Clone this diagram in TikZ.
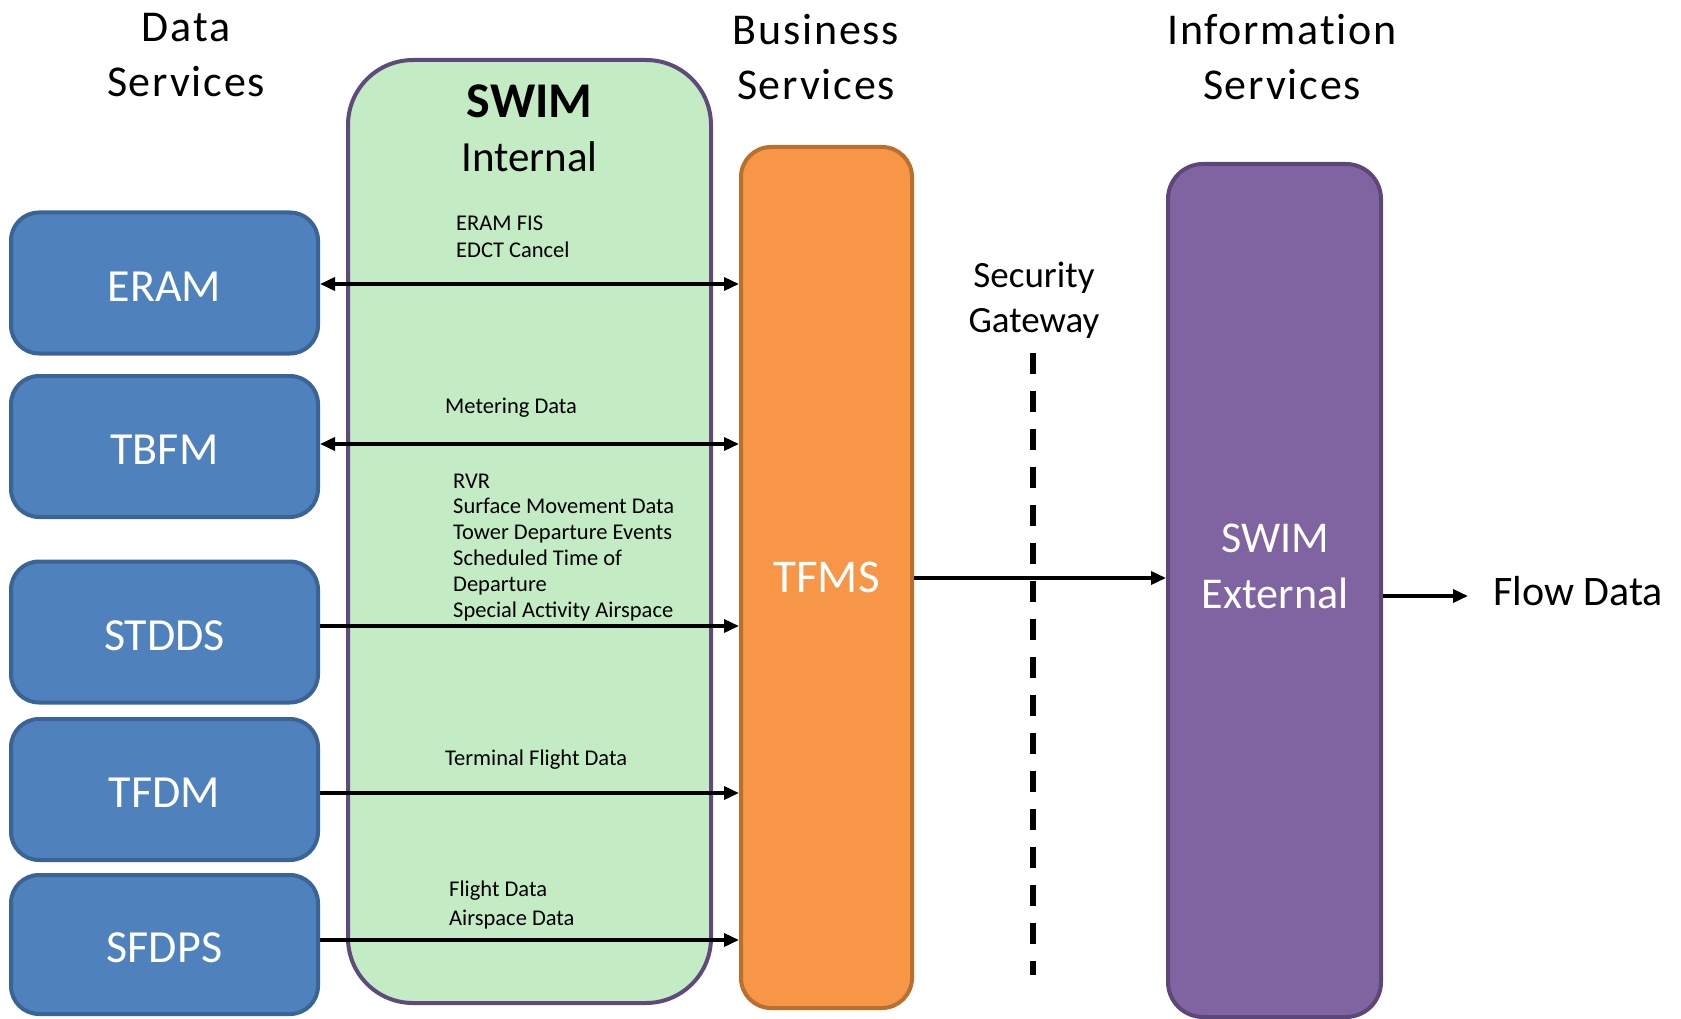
\documentclass[tikz,border=0pt]{standalone}
\usepackage{fontspec}
\setmainfont{Carlito}
\usetikzlibrary{arrows.meta,calc}
\definecolor{bluefill}{HTML}{4F81BD}
\definecolor{blueline}{HTML}{3A6496}
\definecolor{greenfill}{HTML}{C3EBC4}
\definecolor{greenline}{HTML}{604A7B}
\definecolor{orangefill}{HTML}{F79646}
\definecolor{orangeline}{HTML}{B8702F}
\definecolor{purplefill}{HTML}{8064A2}
\definecolor{purpleline}{HTML}{5C4776}
\tikzset{
  sysbox/.style={draw=blueline, line width=4pt, fill=bluefill, rounded corners=28pt,
    minimum width=307pt, minimum height=141pt, inner sep=0pt, text=white,
    text height=36pt, text depth=0pt,
    font=\fontsize{46}{55}\selectfont},
  heading/.style={align=center, inner sep=0pt,
    font=\fontsize{44}{55}\selectfont\addfontfeature{LetterSpace=4,Ligatures=NoCommon}},
  smalllab/.style={align=left, inner sep=0pt, anchor=base west, font=\fontsize{22.5}{27}\selectfont},
  arr/.style={line width=3.5pt, -{Triangle[length=15pt,width=13pt]}},
  darr/.style={line width=3.5pt, {Triangle[length=15pt,width=13pt]}-{Triangle[length=15pt,width=13pt]}},
}
\begin{document}
\begin{tikzpicture}[x=1pt,y=-1pt]
\useasboundingbox (0,0) rectangle (1681,1019);

% SWIM internal container
\node[draw=greenline, line width=4pt, fill=greenfill, rounded corners=65pt,
  minimum width=363pt, minimum height=943pt, inner sep=0pt] (swimint) at (529.5,531.5) {};
\node[inner sep=0pt, anchor=base, font=\bfseries\fontsize{50}{60}\selectfont] (swimtitle) at (529.5,118) {SWIM};
\node[inner sep=0pt, anchor=base, font=\fontsize{43}{52}\selectfont] (swiminternal) at (529.5,172) {Internal};

% data systems
\node[sysbox] (eram) at (164.5,283) {ERAM};
\node[sysbox] (tbfm) at (164.5,446.5) {TBFM};
\node[sysbox] (stdds) at (164.5,632) {STDDS};
\node[sysbox] (tfdm) at (164.5,789.5) {TFDM};
\node[sysbox, minimum height=139pt] (sfdps) at (164.5,944.5) {SFDPS};

% TFMS
\node[draw=orangeline, fill=orangefill, line width=4pt, rounded corners=30pt,
  minimum width=171pt, minimum height=861pt, inner sep=0pt, text=white,
  font=\fontsize{47}{56}\selectfont] (tfms) at (826.5,577.5) {TFMS};

% SWIM External
\node[draw=purpleline, fill=purplefill, line width=4pt, rounded corners=35pt,
  minimum width=213pt, minimum height=853pt, inner sep=0pt] (swimext) at (1274.5,590.5) {};
\node[inner sep=0pt, align=center, anchor=base, text=white,
  font=\fontsize{44}{56}\selectfont] (swimextlab) at (1275,608) {SWIM\\External};

% headings
\node[heading, anchor=base] (hdata) at (186,97) {Data\\Services};
\node[heading, anchor=base] (hbus) at (816,100) {Business\\Services};
\node[heading, anchor=base] (hinfo) at (1282,100) {Information\\Services};
\node[align=center, inner sep=0pt, anchor=base, font=\fontsize{37}{45}\selectfont] (hsec) at (1034,332) {Security\\Gateway};

% labels
\node[smalllab] (lab1) at (456,258) {ERAM FIS\\EDCT Cancel};
\node[smalllab] (lab2) at (445,413) {Metering Data};
\node[smalllab, font=\fontsize{22.5}{25.8}\selectfont] (lab3) at (453,617) {RVR\\Surface Movement Data\\Tower Departure Events\\Scheduled Time of\\Departure\\Special Activity Airspace};
\node[smalllab] (lab4) at (445,765) {Terminal Flight Data};
\node[smalllab, font=\fontsize{22.5}{29}\selectfont] (lab5) at (449,925) {Flight Data\\Airspace Data};

\node[inner sep=0pt, anchor=base west, font=\fontsize{42}{50}\selectfont] (flow) at (1493,605) {Flow Data};

% connectors
\draw[darr] (eram.east |- 0,284) -- (tfms.west |- 0,284);
\draw[darr] (tbfm.east |- 0,444) -- (tfms.west |- 0,444);
\draw[arr] (stdds.east |- 0,626) -- (tfms.west |- 0,626);
\draw[arr] (tfdm.east |- 0,793) -- (tfms.west |- 0,793);
\draw[arr] (sfdps.east |- 0,940) -- (tfms.west |- 0,940);
\draw[arr] (tfms.east |- 0,578) -- (swimext.west |- 0,578);
\coordinate (fdtip) at (1468,596);
\draw[arr] (swimext.east |- fdtip) -- (fdtip);

% security gateway
\coordinate (gtop) at (1033,353);
\coordinate (gbot) at (1033,975);
\draw[line width=5.5pt, dash pattern=on 21pt off 17pt] (gtop) -- (gbot);
\end{tikzpicture}
\end{document}
